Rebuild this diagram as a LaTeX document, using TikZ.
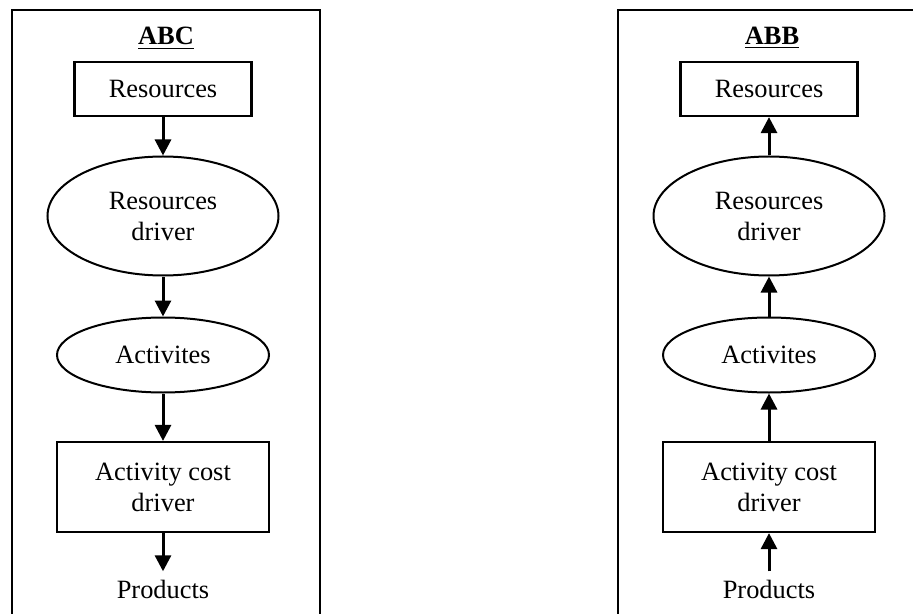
\documentclass[tikz,border=0pt]{standalone}
\usepackage{fontspec}
\setmainfont{Liberation Serif}
\usepackage{tikz}
\usetikzlibrary{shapes.geometric}
\usetikzlibrary{arrows.meta}

\begin{document}
\begin{tikzpicture}[x=0.5pt,y=-0.5pt,
   font=\fontsize{13.2}{15.5}\selectfont,
   frame/.style={line width=1.1pt},
   rbox/.style={draw,line width=1.1pt,inner sep=0pt,align=center},
   rell/.style={draw,ellipse,line width=1pt,inner sep=0pt,align=center},
   flow/.style={line width=1.5pt,-{Triangle[width=8pt,length=8pt]}}]
  \useasboundingbox (0,0) rectangle (913,614);
  % ABC
  \draw[frame] (12,614)--(12,10)--(320,10)--(320,614);
  \node[anchor=base,font=\fontsize{13.2}{15.5}\selectfont\bfseries] (abctitle) at (166,45) {\underline{ABC}};
  \node[rbox,minimum width=88.5pt,minimum height=27pt] (abcres) at (163,89) {Resources};
  \node[rell,minimum width=115.5pt,minimum height=59.5pt] (abcrdrv) at (163,216) {Resources\\driver};
  \node[rell,minimum width=106pt,minimum height=37.5pt] (abcact) at (163,355) {Activites};
  \node[rbox,minimum width=106pt,minimum height=45pt] (abccost) at (163,487) {Activity cost\\driver};
  \node[anchor=base,inner sep=4pt] (abcprod) at (163,598) {Products};
  \draw[flow] (abcres) -- (abcrdrv);
  \draw[flow] (abcrdrv) -- (abcact);
  \draw[flow] (abcact) -- (abccost);
  \draw[flow] (abccost) -- (abcprod);
  %%%%%%%%%%%%%%%%%%%%%%%%%%%%%%%%%%%
  % ABB
  \draw[frame] (618,614)--(618,10)--(913,10);
  \node[anchor=base,font=\fontsize{13.2}{15.5}\selectfont\bfseries] (abbtitle) at (772,45) {\underline{ABB}};
  \node[rbox,minimum width=88.5pt,minimum height=27pt] (abbres) at (769,89) {Resources};
  \node[rell,minimum width=115.5pt,minimum height=59.5pt] (abbrdrv) at (769,216) {Resources\\driver};
  \node[rell,minimum width=106pt,minimum height=37.5pt] (abbact) at (769,355) {Activites};
  \node[rbox,minimum width=106pt,minimum height=45pt] (abbcost) at (769,487) {Activity cost\\driver};
  \node[anchor=base,inner sep=4pt] (abbprod) at (769,598) {Products};
  \draw[flow] (abbrdrv) -- (abbres);
  \draw[flow] (abbact) -- (abbrdrv);
  \draw[flow] (abbcost) -- (abbact);
  \draw[flow] (abbprod) -- (abbcost);
\end{tikzpicture}
\end{document}
